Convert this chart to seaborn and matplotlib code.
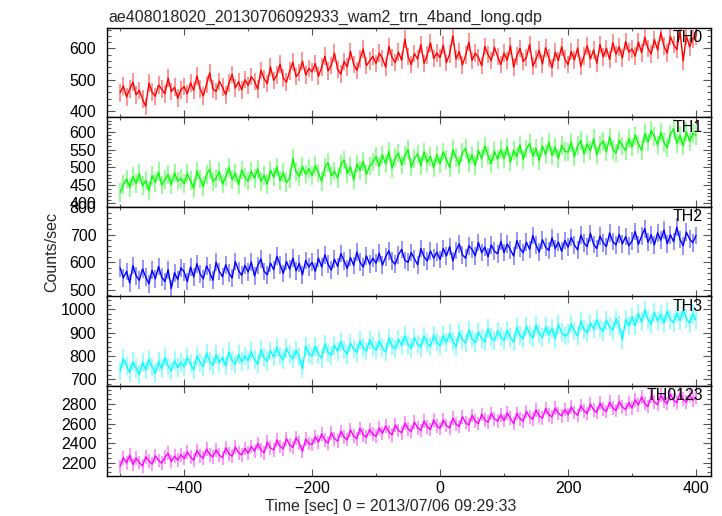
import numpy as np
import pandas as pd
import matplotlib
matplotlib.use("Agg")
import matplotlib.pyplot as plt
from matplotlib.ticker import MultipleLocator
import seaborn as sns

title = "ae408018020_20130706092933_wam2_trn_4band_long.qdp"
xlabel = "Time [sec] 0 = 2013/07/06 09:29:33"
ylabel = "Counts/sec"
band_names = ["TH0", "TH1", "TH2", "TH3", "TH0123"]

# 5-s bins from -500 s to +400 s
time_start, time_stop, time_step = -500, 400, 5

th0 = [458, 480, 445, 470, 492, 452, 466, 438, 415, 489, 460, 447, 483, 470, 455, 505, 462, 476, 441, 468,
       478, 455, 490, 466, 512, 471, 448, 485, 522, 470, 463, 495, 476, 452, 489, 517, 474, 493, 468, 500,
       482, 510, 495, 470, 530, 503, 488, 541, 498, 515, 550, 505, 492, 528, 556, 510, 523, 559, 515, 536,
       525, 552, 511, 540, 575, 528, 546, 585, 532, 518, 558, 541, 590, 549, 530, 566, 598, 545, 560, 574,
       552, 585, 568, 540, 606, 571, 555, 588, 562, 630, 574, 548, 583, 566, 612, 552, 579, 618, 568, 585,
       570, 610, 555, 582, 640, 566, 590, 547, 578, 620, 562, 585, 571, 545, 606, 580, 561, 603, 574, 548,
       585, 562, 608, 540, 576, 600, 558, 571, 613, 543, 566, 594, 550, 602, 570, 538, 588, 561, 605, 566,
       548, 590, 563, 601, 543, 575, 608, 566, 595, 552, 612, 573, 600, 565, 618, 581, 605, 570, 622, 588,
       598, 575, 620, 586, 635, 600, 582, 628, 595, 650, 607, 585, 638, 612, 596, 655, 560, 640, 605, 630,
       640]
th1 = [430, 452, 468, 445, 475, 455, 483, 449, 463, 435, 477, 458, 488, 451, 466, 480, 452, 485, 462, 470,
       455, 483, 463, 442, 490, 468, 447, 481, 495, 461, 470, 489, 454, 473, 500, 466, 485, 452, 493, 472,
       462, 490, 470, 496, 461, 478, 453, 492, 473, 501, 463, 486, 458, 470, 525, 488, 475, 503, 480, 497,
       478, 505, 485, 461, 500, 513, 477, 490, 470, 508, 521, 483, 502, 465, 510, 492, 517, 481, 504, 515,
       530, 503, 535, 510, 545, 498, 527, 540, 507, 533, 550, 501, 525, 538, 505, 543, 513, 531, 500, 535,
       510, 543, 522, 500, 550, 528, 507, 541, 553, 514, 535, 505, 547, 525, 560, 533, 511, 545, 523, 550,
       525, 557, 515, 548, 530, 563, 523, 552, 567, 531, 554, 519, 560, 536, 571, 533, 557, 525, 562, 545,
       543, 570, 530, 561, 575, 538, 566, 547, 580, 535, 563, 573, 544, 585, 551, 540, 576, 560, 547, 581,
       557, 590, 565, 548, 595, 571, 603, 587, 563, 598, 570, 555, 593, 608, 567, 590, 560, 600, 573, 595,
       590]
th2 = [580, 543, 567, 525, 588, 551, 535, 576, 547, 522, 571, 540, 585, 546, 530, 573, 505, 562, 538, 580,
       565, 530, 583, 547, 595, 558, 540, 587, 563, 535, 600, 567, 548, 591, 561, 543, 603, 570, 553, 589,
       565, 601, 550, 588, 612, 567, 555, 597, 573, 622, 591, 560, 603, 575, 615, 569, 596, 555, 607, 583,
       600, 567, 615, 583, 627, 593, 572, 611, 585, 632, 605, 578, 617, 589, 637, 600, 583, 623, 593, 615,
       597, 633, 590, 620, 642, 605, 593, 627, 647, 607, 600, 635, 613, 591, 650, 620, 605, 641, 615, 637,
       610, 650, 623, 657, 605, 643, 667, 627, 615, 660, 647, 623, 672, 635, 655, 620, 663, 640, 631, 675,
       635, 667, 645, 623, 679, 650, 635, 673, 647, 697, 663, 637, 682, 655, 643, 689, 650, 673, 640, 679,
       655, 690, 663, 645, 699, 670, 657, 705, 665, 650, 695, 671, 657, 707, 675, 663, 701, 667, 693, 660,
       677, 712, 665, 695, 722, 673, 700, 663, 707, 680, 717, 667, 700, 675, 727, 683, 660, 709, 685, 671,
       697]
th3 = [735, 790, 757, 730, 775, 747, 720, 773, 740, 785, 753, 725, 777, 745, 795, 757, 735, 780, 750, 773,
       753, 795, 765, 740, 800, 773, 755, 812, 777, 760, 805, 770, 795, 757, 818, 781, 765, 807, 775, 800,
       780, 819, 785, 765, 827, 793, 777, 822, 795, 837, 800, 783, 832, 805, 787, 825, 795, 745, 842, 810,
       800, 842, 807, 790, 852, 815, 803, 845, 820, 862, 825, 807, 855, 830, 815, 865, 835, 821, 869, 840,
       825, 865, 835, 817, 877, 843, 830, 872, 845, 887, 850, 833, 879, 851, 837, 885, 855, 840, 889, 860,
       845, 887, 857, 897, 863, 840, 902, 870, 855, 912, 873, 857, 902, 875, 861, 917, 880, 865, 907, 883,
       867, 909, 880, 860, 922, 887, 873, 927, 893, 877, 932, 895, 880, 925, 890, 919, 875, 935, 900, 885,
       895, 937, 907, 885, 949, 913, 900, 942, 915, 955, 920, 905, 952, 925, 910, 959, 930, 870, 955, 930,
       967, 930, 982, 945, 997, 957, 935, 987, 950, 977, 940, 992, 957, 943, 985, 953, 997, 960, 940, 982,
       955]
th0123 = [2160, 2250, 2195, 2275, 2180, 2245, 2200, 2165, 2260, 2215, 2185, 2270, 2220, 2195, 2255, 2295, 2210, 2265, 2225, 2280,
          2240, 2310, 2255, 2225, 2325, 2270, 2245, 2340, 2280, 2260, 2330, 2275, 2250, 2350, 2290, 2265, 2360, 2300, 2280, 2345,
          2295, 2365, 2315, 2395, 2330, 2300, 2410, 2350, 2330, 2430, 2365, 2340, 2445, 2380, 2355, 2455, 2400, 2315, 2440, 2395,
          2385, 2465, 2410, 2495, 2430, 2400, 2505, 2445, 2420, 2520, 2460, 2435, 2535, 2470, 2445, 2550, 2485, 2460, 2540, 2490,
          2470, 2555, 2500, 2575, 2515, 2485, 2585, 2530, 2505, 2605, 2545, 2520, 2615, 2555, 2530, 2625, 2565, 2540, 2635, 2575,
          2550, 2635, 2580, 2555, 2655, 2595, 2570, 2670, 2610, 2585, 2685, 2625, 2600, 2695, 2635, 2615, 2705, 2650, 2625, 2690,
          2630, 2710, 2655, 2600, 2705, 2650, 2625, 2725, 2670, 2645, 2740, 2680, 2655, 2755, 2690, 2670, 2760, 2705, 2680, 2745,
          2690, 2770, 2715, 2685, 2785, 2730, 2705, 2800, 2740, 2715, 2810, 2750, 2725, 2820, 2760, 2735, 2825, 2770, 2745, 2815,
          2760, 2845, 2790, 2875, 2805, 2775, 2880, 2820, 2795, 2895, 2835, 2805, 2905, 2840, 2815, 2910, 2850, 2820, 2895, 2840,
          2870]

band_values = [th0, th1, th2, th3, th0123]
band_errors = [28, 26, 32, 40, 70]

colors = ["#ff0000", "#00ff00", "#0000ff", "#00ffff", "#ff00ff"]
ylims = [(380, 666), (390, 640), (476, 801), (671, 1055), (2065, 2985)]
major_steps = [100, 50, 100, 100, 200]
minor_steps = [20, 10, 20, 20, 50]
xticks = [-400, -200, 0, 200, 400]

sns.set_theme(style="ticks")
plt.rcParams["font.family"] = ["Liberation Sans", "DejaVu Sans"]

W, H = 722, 516
fig = plt.figure(figsize=(W / 100, H / 100), dpi=100)
left, right, top, bottom = 106.7, 710.7, 27.7, 475.7
ph = (bottom - top) / 5
axes = []
for i in range(5):
    y0 = top + i * ph
    ax = fig.add_axes([left / W, 1 - (y0 + ph) / H, (right - left) / W, ph / H],
                      sharex=axes[0] if axes else None)
    axes.append(ax)

time = np.arange(time_start, time_stop + 1, time_step)

for i, ax in enumerate(axes):
    vals = np.array(band_values[i], dtype=float)
    df = pd.DataFrame({"time": time, "rate": vals})
    ax.errorbar(df["time"], df["rate"], yerr=band_errors[i], fmt="none",
                ecolor=colors[i], alpha=0.45, elinewidth=1.3, capsize=0)
    sns.lineplot(data=df, x="time", y="rate", ax=ax, color=colors[i],
                 lw=1.0, estimator=None, legend=False)
    ax.set_xlim(-521, 423)
    ax.set_ylim(*ylims[i])
    ax.yaxis.set_major_locator(MultipleLocator(major_steps[i]))
    ax.yaxis.set_minor_locator(MultipleLocator(minor_steps[i]))
    ax.set_xticks(xticks)
    ax.xaxis.set_minor_locator(MultipleLocator(100))
    ax.tick_params(which="both", direction="in", top=True, right=True,
                   colors="#555555", labelcolor="black", labelsize=11.5)
    ax.tick_params(which="major", length=5, width=0.8)
    ax.tick_params(which="minor", length=2.5, width=0.8)
    ax.tick_params(axis="y", which="major", length=6, pad=7.5)
    ax.tick_params(axis="y", which="minor", length=3)
    ax.tick_params(axis="x", which="major", pad=4)
    for sp in ax.spines.values():
        sp.set_color("black")
        sp.set_linewidth(1.0)
    ax.set_xlabel("")
    ax.set_ylabel("")
    if i < 4:
        ax.tick_params(labelbottom=False)
    ax.text(0.987, 0.975, band_names[i], transform=ax.transAxes,
            ha="right", va="top", fontsize=11.5, color="black")

fig.text(108 / W, 1 - 17 / H, title, ha="left", va="center", fontsize=11.5)
fig.text(52 / W, 1 - 251.7 / H, ylabel, ha="center", va="center",
         rotation=90, fontsize=11.5)
fig.text(391 / W, 1 - 507 / H, xlabel, ha="center", va="center", fontsize=11.5)

fig.savefig("out.png", dpi=100)
